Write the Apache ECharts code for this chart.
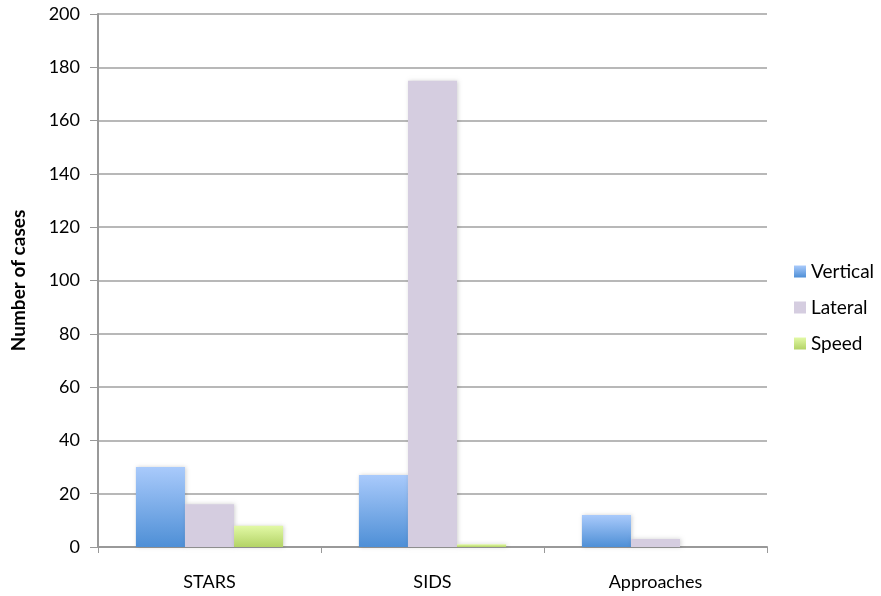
<!DOCTYPE html>
<html><head><meta charset="utf-8">
<script src="https://cdn.jsdelivr.net/npm/echarts@6/dist/echarts.min.js"></script>
<style>html,body{margin:0;padding:0;background:#fff}#c{width:881px;height:596px}</style>
</head><body><div id="c"></div>
<script>
const categories = ['STARS', 'SIDS', 'Approaches'];
const verticalValues = [30, 27, 12];
const lateralValues = [16, 175, 3];
const speedValues = [8, 1, 0];
const yTicks = [0, 20, 40, 60, 80, 100, 120, 140, 160, 180, 200];

const font = 'Lato, "Open Sans", sans-serif';
const chart = echarts.init(document.getElementById('c'));
function grad(a, b) {
  return new echarts.graphic.LinearGradient(0, 0, 0, 1, [{offset: 0, color: a}, {offset: 1, color: b}]);
}
const shadow = {shadowColor: 'rgba(0,0,0,0.18)', shadowBlur: 4, shadowOffsetX: 1, shadowOffsetY: 0};
chart.setOption({
  animation: false,
  textStyle: {fontFamily: font},
  grid: {left: 98, right: 114, top: 14, bottom: 49, containLabel: false},
  legend: {
    orient: 'vertical', left: 789, top: 257, itemWidth: 12, itemHeight: 12, itemGap: 17, icon: 'rect',
    textStyle: {fontFamily: font, fontSize: 19, color: '#000', padding: [0, 0, 0, 0]},
    data: ['Vertical', 'Lateral', 'Speed']
  },
  xAxis: {
    type: 'category', data: categories,
    axisLine: {lineStyle: {color: '#999', width: 2}},
    axisTick: {show: true, length: 6, lineStyle: {color: '#999', width: 1}},
    axisLabel: {fontFamily: font, fontSize: 18, color: '#000', margin: 26}
  },
  yAxis: {
    type: 'value', min: yTicks[0], max: yTicks[yTicks.length - 1], interval: 20,
    name: 'Number of cases', nameLocation: 'middle', nameGap: 70, nameRotate: 90,
    nameTextStyle: {fontFamily: font, fontSize: 19, fontWeight: 'bold', color: '#000'},
    axisLine: {show: true, lineStyle: {color: '#999', width: 2}},
    axisTick: {show: true, length: 8, lineStyle: {color: '#999'}},
    axisLabel: {fontFamily: font, fontSize: 18, color: '#000', margin: 18},
    splitLine: {lineStyle: {color: '#a0a0a0', width: 1.5}}
  },
  series: [
    {name: 'Vertical', type: 'bar', data: verticalValues, barGap: '0%', barCategoryGap: '34%',
     itemStyle: Object.assign({color: grad('#a9cafb', '#4e8fd6')}, shadow)},
    {name: 'Lateral', type: 'bar', data: lateralValues,
     itemStyle: Object.assign({color: '#d5cde0'}, shadow)},
    {name: 'Speed', type: 'bar', data: speedValues,
     itemStyle: Object.assign({color: grad('#e2f9a6', '#b3d366')}, shadow)}
  ]
});
</script></body></html>
